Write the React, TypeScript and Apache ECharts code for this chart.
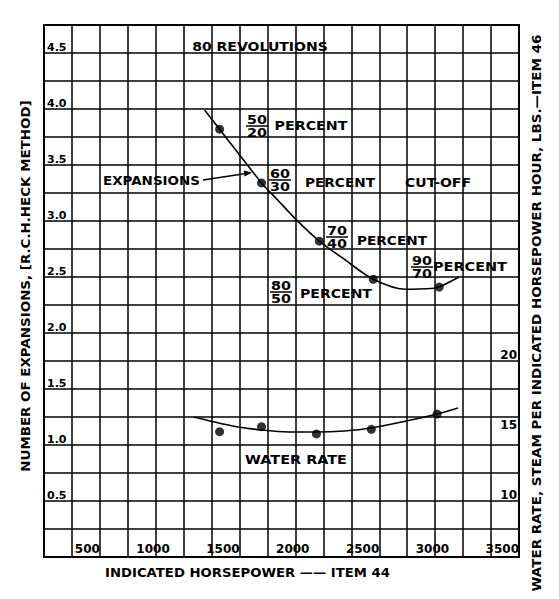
import React, { useEffect, useRef } from 'react';
import * as echarts from 'echarts';

// ---- data ----
const xTickLabels = [500, 1000, 1500, 2000, 2500, 3000, 3500];
const yLeftTickLabels = ['0.5', '1.0', '1.5', '2.0', '2.5', '3.0', '3.5', '4.0', '4.5'];
const yRightTickLabels = [10, 15, 20];

const expansionHP = [1357, 1657, 2071, 2457, 2929];
const expansionValues = [3.82, 3.34, 2.82, 2.48, 2.41];
const expansionCurveHP = [1250, 1357, 1657, 1771, 1907, 2071, 2236, 2457, 2693, 2893, 2929, 3071];
const expansionCurveValues = [3.99, 3.82, 3.34, 3.19, 3.01, 2.82, 2.67, 2.48, 2.39, 2.4, 2.41, 2.5];

const waterHP = [1357, 1657, 2050, 2443, 2914];
const waterValues = [14.95, 15.31, 14.79, 15.12, 16.21];
const waterCurveHP = [1171, 1450, 1657, 1857, 2050, 2250, 2443, 2693, 2914, 3064];
const waterCurveValues = [16.0, 15.36, 15.07, 14.93, 14.93, 15.0, 15.21, 15.71, 16.21, 16.64];

const cutoffNumerators = ['50', '60', '70', '90', '80'];
const cutoffDenominators = ['20', '30', '40', '70', '50'];

// ---- layout ----
const FONT = '"DejaVu Sans", sans-serif';
const WEIGHT = 'bold';
const W = 559;
const H = 599;
const fractionPos = [
  [257, 126], [280, 180], [337, 237], [422, 267], [281, 292],
];
const percentPos = [
  [311, 126, 73], [340, 183, 70], [392, 241, 70], [470, 267, 74], [336, 294, 72],
];

let measureCtx: CanvasRenderingContext2D | null = null;
function measure(text: string, size: number): number {
  if (!measureCtx) measureCtx = document.createElement('canvas').getContext('2d');
  if (!measureCtx) return text.length * size * 0.65;
  measureCtx.font = `${WEIGHT} ${size}px ${FONT}`;
  return measureCtx.measureText(text).width;
}

function stretched(text: string, cx: number, cy: number, w: number, size: number, rotation = 0) {
  const m = measure(text, size);
  return {
    type: 'text',
    x: cx,
    y: cy,
    rotation,
    scaleX: w / m,
    scaleY: 1,
    silent: true,
    z: 10,
    style: {
      text,
      fontSize: size,
      fontFamily: FONT,
      fontWeight: WEIGHT,
      fill: '#000',
      align: 'center',
      verticalAlign: 'middle',
    },
  };
}

function near(a: number, b: number) {
  return Math.abs(a - b) < 1e-6;
}

export default function App() {
  const ref = useRef<HTMLDivElement>(null);

  useEffect(() => {
    if (!ref.current) return;
    const chart = echarts.init(ref.current, null, { renderer: 'svg' });

    const graphics: any[] = [];
    graphics.push(stretched('80 REVOLUTIONS', 260, 47, 136, 12));
    percentPos.forEach(([cx, cy, w]) => graphics.push(stretched('PERCENT', cx, cy, w, 12)));
    graphics.push(stretched('CUT-OFF', 438, 183, 66, 12));
    graphics.push(stretched('EXPANSIONS', 151.5, 181, 97, 12));
    graphics.push(stretched('WATER RATE', 296, 460, 102, 12));
    graphics.push(stretched('INDICATED HORSEPOWER —— ITEM 44', 247.5, 573, 285, 13));
    graphics.push(stretched('NUMBER OF EXPANSIONS, [R.C.H.HECK METHOD]', 26, 286, 372, 13, Math.PI / 2));
    graphics.push(
      stretched('WATER RATE, STEAM PER INDICATED HORSEPOWER HOUR, LBS.—ITEM 46', 537, 313, 557, 13, Math.PI / 2)
    );
    fractionPos.forEach(([cx, cy], i) => {
      graphics.push(stretched(cutoffNumerators[i], cx, cy - 6.5, 20, 12));
      graphics.push(stretched(cutoffDenominators[i], cx, cy + 6.5, 20, 12));
      graphics.push({
        type: 'line',
        silent: true,
        z: 10,
        shape: { x1: cx - 11, y1: cy, x2: cx + 11, y2: cy },
        style: { stroke: '#000', lineWidth: 1.5 },
      });
    });
    // arrow from EXPANSIONS to the curve
    graphics.push({
      type: 'line',
      silent: true,
      z: 10,
      shape: { x1: 203, y1: 180, x2: 246, y2: 173.5 },
      style: { stroke: '#000', lineWidth: 1.3 },
    });
    graphics.push({
      type: 'polygon',
      silent: true,
      z: 10,
      shape: { points: [[252, 172.4], [244.6, 176.5], [243.6, 170.5]] },
      style: { fill: '#000' },
    });

    const axisLabelBase = { color: '#000', fontFamily: FONT, fontWeight: WEIGHT };

    chart.setOption({
      animation: false,
      backgroundColor: '#fff',
      grid: {
        left: 44,
        top: 25,
        width: 475,
        height: 532,
        show: true,
        borderColor: '#000',
        borderWidth: 2,
        backgroundColor: 'transparent',
        containLabel: false,
        outerBoundsMode: 'none',
      },
      xAxis: [
        {
          type: 'value',
          position: 'bottom',
          min: 100,
          max: 3500,
          interval: 100,
          axisLine: { show: false },
          axisTick: { show: false },
          splitLine: { show: false },
          axisLabel: {
            ...axisLabelBase,
            inside: true,
            fontSize: 12,
            align: 'right',
            verticalAlign: 'bottom',
            margin: 2,
            showMinLabel: true,
            showMaxLabel: true,
            formatter: (v: number) => (xTickLabels.some((t) => near(t, v)) ? String(v) : ''),
          },
        },
        {
          type: 'value',
          position: 'top',
          min: 0,
          max: 17,
          interval: 1,
          axisLine: { show: false },
          axisTick: { show: false },
          axisLabel: { show: false },
          splitLine: { show: true, lineStyle: { color: '#000', width: 1.5 } },
        },
      ],
      yAxis: [
        {
          type: 'value',
          position: 'left',
          min: 0,
          max: 4.75,
          interval: 0.25,
          axisLine: { show: false },
          axisTick: { show: false },
          splitLine: { show: true, lineStyle: { color: '#000', width: 1.5 } },
          axisLabel: {
            ...axisLabelBase,
            inside: true,
            fontSize: 11,
            align: 'left',
            verticalAlign: 'bottom',
            margin: 3,
            showMinLabel: true,
            showMaxLabel: true,
            formatter: (v: number) => {
              const l = yLeftTickLabels.find((t) => near(Number(t), v));
              return l ?? '';
            },
          },
        },
        {
          type: 'value',
          position: 'right',
          min: 6,
          max: 44,
          interval: 1,
          axisLine: { show: false },
          axisTick: { show: false },
          splitLine: { show: false },
          axisLabel: {
            ...axisLabelBase,
            inside: true,
            fontSize: 12,
            align: 'right',
            verticalAlign: 'bottom',
            margin: 2,
            formatter: (v: number) => (yRightTickLabels.some((t) => near(t, v)) ? String(v) : ''),
          },
        },
      ],
      series: [
        {
          name: 'Expansions curve',
          type: 'line',
          xAxisIndex: 0,
          yAxisIndex: 0,
          smooth: 0.3,
          showSymbol: false,
          silent: true,
          lineStyle: { color: '#000', width: 1.6 },
          data: expansionCurveHP.map((x, i) => [x, expansionCurveValues[i]]),
        },
        {
          name: 'Expansions',
          type: 'scatter',
          xAxisIndex: 0,
          yAxisIndex: 0,
          symbol: 'circle',
          symbolSize: 9,
          silent: true,
          itemStyle: { color: '#000' },
          data: expansionHP.map((x, i) => [x, expansionValues[i]]),
        },
        {
          name: 'Water rate curve',
          type: 'line',
          xAxisIndex: 0,
          yAxisIndex: 1,
          smooth: 0.3,
          showSymbol: false,
          silent: true,
          lineStyle: { color: '#000', width: 1.6 },
          data: waterCurveHP.map((x, i) => [x, waterCurveValues[i]]),
        },
        {
          name: 'Water rate',
          type: 'scatter',
          xAxisIndex: 0,
          yAxisIndex: 1,
          symbol: 'circle',
          symbolSize: 9,
          silent: true,
          itemStyle: { color: '#000' },
          data: waterHP.map((x, i) => [x, waterValues[i]]),
        },
      ],
      graphic: graphics,
    });

    return () => chart.dispose();
  }, []);

  return (
    <div
      ref={ref}
      style={{ position: 'fixed', left: 0, top: 0, width: W, height: H, background: '#fff' }}
    />
  );
}
